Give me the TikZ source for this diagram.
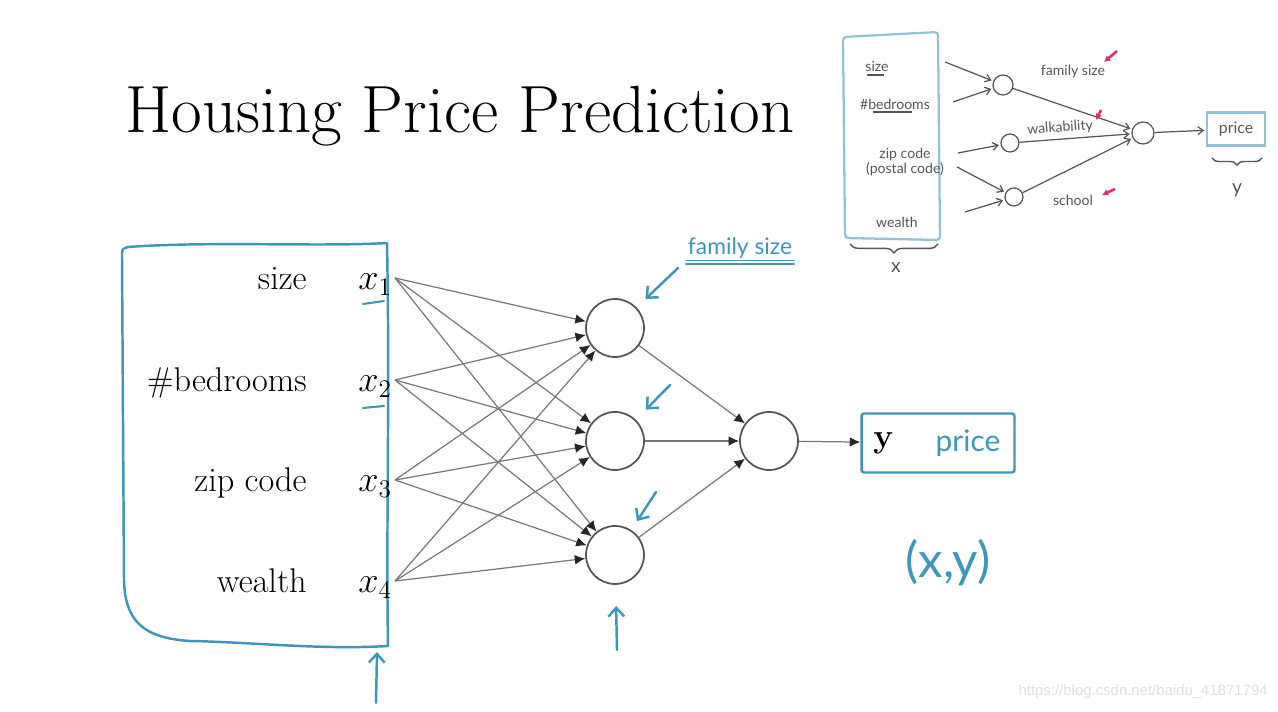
\documentclass[tikz,border=0pt]{standalone}
\usepackage{fontspec}
\usepackage{tikz}
\usetikzlibrary{arrows.meta, positioning, calc, decorations.pathreplacing}
\newfontfamily\handfont{Lato}
\newfontfamily\markfont{Liberation Sans}
\definecolor{inkBlue}{RGB}{62,150,185}
\definecolor{edgeGray}{RGB}{120,120,120}
\definecolor{nodeGray}{RGB}{85,85,85}
\definecolor{sketchGray}{RGB}{85,85,85}
\definecolor{sketchBlue}{RGB}{150,195,212}
\definecolor{pinkInk}{RGB}{215,50,120}

\begin{document}
\begin{tikzpicture}[x=0.02cm, y=-0.02cm,
    neuron/.style={circle, draw=nodeGray, line width=1pt, minimum size=1.16cm, inner sep=0pt},
    edge/.style={draw=edgeGray, line width=0.7pt, -{Latex[length=6pt,width=5.5pt,color=black!85]}},
    pen/.style={draw=inkBlue, line width=1.4pt, line cap=round, line join=round},
    penarrow/.style={pen, -{Straight Barb[length=5pt,width=9pt]}},
    feature/.style={font=\fontsize{19.5}{22}\selectfont, anchor=base east, inner sep=0pt},
    sketch/.style={draw=sketchGray, line width=0.7pt, shorten >=1pt, -{Straight Barb[length=3pt,width=4.5pt]}},
    sketchtext/.style={font=\handfont\fontsize{8}{9}\selectfont, text=sketchGray, inner sep=0pt},
    mini/.style={circle, draw=sketchGray, line width=0.7pt, inner sep=0pt},
    pinkarrow/.style={draw=pinkInk, line width=1.5pt, -{Latex[length=3.5pt,width=4pt]}}]
    \useasboundingbox (0,0) rectangle (1278,712);

    % title
    \node[anchor=base west, inner sep=0pt, font=\fontsize{38}{44}\selectfont] (title) at (125,133) {Housing Price Prediction};

    % input box, drawn by hand
    \draw[pen] (128,247) .. controls (210,241) and (320,247) .. (387,243)
        .. controls (390,400) and (386,520) .. (388,646)
        .. controls (320,650) and (250,642) .. (190,641)
        .. controls (142,638) and (125,620) .. (124,580)
        -- (122,256) .. controls (122,249) .. (128,247);
    \foreach \txt/\yy [count=\i] in {size/290, \#bedrooms/392, zip code/492, wealth/593} {
        \node[feature] (feat\i) at (307,\yy) {\txt};
        \node[anchor=base west, inner sep=0pt, font=\fontsize{19.5}{22}\selectfont] (x\i) at (358,\yy) {$x_{\i}$};
        \coordinate (in\i) at (395,\yy-12);
    }
    \draw[pen, line width=1.2pt] (363,304) -- (384,301);
    \draw[pen, line width=1.2pt] (363,408) -- (384,406);

    % network
    \node[neuron] (h1) at (615,328) {};
    \node[neuron] (h2) at (615,441) {};
    \node[neuron] (h3) at (615,555) {};
    \node[neuron] (out) at (769,441) {};
    \foreach \i in {1,...,4} \foreach \j in {1,2,3} { \draw[edge] (in\i) -- (h\j); }
    \foreach \j in {1,2,3} { \draw[edge] (h\j) -- (out); }

    % output box
    \node[draw=inkBlue, line width=1.4pt, minimum width=3.06cm, minimum height=1.18cm, rounded corners=1.5pt] (ybox) at (938,443) {};
    \draw[edge] (out) -- (ybox);
    \node[anchor=base west, inner sep=0pt, font=\fontsize{19}{22}\selectfont\bfseries] (yout) at (873,448) {y};
    \node[font=\handfont\fontsize{17}{20}\selectfont, text=inkBlue] (price) at (968,443) {price};
    \node[font=\handfont\fontsize{28}{30}\selectfont, text=inkBlue] (pair) at (948,563) {(x,y)};

    % pen notes
    \node[font=\handfont\fontsize{13}{14}\selectfont, text=inkBlue, inner sep=1pt] (fam) at (740,248) {family size};
    \draw[pen, line width=0.9pt] (fam.south west) -- (fam.south east);
    \draw[pen, line width=0.9pt] ([yshift=-2pt]fam.south west) -- ([yshift=-2pt]fam.south east);
    \coordinate (t1) at (678,268);
    \coordinate (t2) at (670,385);
    \coordinate (t3) at (656,492);
    \coordinate (t4) at (617,650);
    \coordinate (t5) at (376,703);
    \coordinate (boxfoot) at (377,652);
    \draw[penarrow, shorten >=7pt] (t1) -- (h1);
    \draw[penarrow, shorten >=8pt] (t2) -- (h2);
    \draw[penarrow, shorten >=6pt] (t3) -- (h3);
    \draw[penarrow, shorten >=12pt] (t4) -- (h3);
    \draw[penarrow] (t5) -- (boxfoot);

    % small sketch, top right
    \draw[draw=sketchBlue, line width=1.3pt, rounded corners=2pt] (843,37) -- (938,32) -- (940,240) -- (845,238) -- cycle;
    \node[sketchtext] (ssize) at (877,66) {size};
    \draw[sketchGray, line width=0.6pt] (867,75) -- (884,75);
    \node[sketchtext] (sbed) at (895,104) {\#bedrooms};
    \draw[sketchGray, line width=0.6pt] (873,112) -- (912,112);
    \node[sketchtext, align=center] (szip) at (905,162) {zip code\\(postal code)};
    \node[sketchtext] (swealth) at (897,222) {wealth};
    \draw[sketchGray, line width=0.8pt, decorate, decoration={brace, mirror, amplitude=5pt}] (850,244) -- (938,244);
    \node[sketchtext, font=\handfont\fontsize{11}{12}\selectfont] (sx) at (896,268) {x};

    \node[mini, minimum size=0.4cm] (s1) at (1003,85) {};
    \node[mini, minimum size=0.36cm] (s2) at (1010,143) {};
    \node[mini, minimum size=0.36cm] (s3) at (1014,197) {};
    \node[mini, minimum size=0.44cm] (sout) at (1143,133) {};
    \node[draw=sketchBlue, line width=1.3pt, minimum width=1.16cm, minimum height=0.66cm, sketchtext, font=\handfont\fontsize{9}{10}\selectfont] (sprice) at (1236,129) {price};

    \coordinate (p1) at (945,62);
    \coordinate (p2) at (953,102);
    \coordinate (p3) at (958,153);
    \coordinate (p4) at (957,167);
    \coordinate (p5) at (965,212);
    \draw[sketch] (p1) -- (s1);
    \draw[sketch] (p2) -- (s1);
    \draw[sketch] (p3) -- (s2);
    \draw[sketch] (p4) -- (s3);
    \draw[sketch] (p5) -- (s3);
    \foreach \s in {s1,s2,s3} { \draw[sketch] (\s) -- (sout); }
    \draw[sketch] (sout) -- (sprice);

    \node[sketchtext] (sfam) at (1073,72) {family size};
    \node[sketchtext, rotate=4] (swalk) at (1060,128) {walkability};
    \node[sketchtext] (sschool) at (1073,200) {school};
    \draw[sketchGray, line width=0.8pt, decorate, decoration={brace, mirror, amplitude=4pt}] (1212,158) -- (1262,158);
    \node[sketchtext, font=\handfont\fontsize{11}{12}\selectfont] (sy) at (1237,190) {y};

    \coordinate (k1) at (1117,51);
    \coordinate (k2) at (1101,110);
    \coordinate (k3) at (1115,189);
    \draw[pinkarrow] (k1) -- (1104,62);
    \draw[pinkarrow] (k2) -- (1096,120);
    \draw[pinkarrow] (k3) -- (1102,195);

    % watermark
    \node[anchor=east, inner sep=0pt, font=\markfont\fontsize{8.5}{10}\selectfont, text=black!12] (mark) at (1268,692) {https://blog.csdn.net/baidu\_41871794};
\end{tikzpicture}
\end{document}
